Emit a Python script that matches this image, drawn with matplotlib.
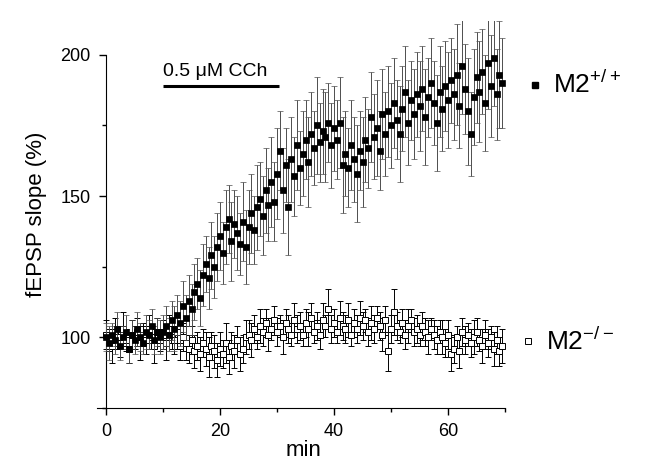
# -*- coding: utf-8 -*-
"""fEPSP slope during 0.5 uM CCh, M2+/+ vs M2-/- slices."""

import matplotlib
matplotlib.use('Agg')
import matplotlib.pyplot as plt
import numpy as np
from matplotlib.ticker import MultipleLocator

plt.rcParams['font.family'] = ['Liberation Sans', 'DejaVu Sans']
plt.rcParams['mathtext.default'] = 'regular'

# sampling every 30 s
minutes = np.arange(0, 70, 0.5)

wt_mean = [100, 98, 101, 99, 103, 97, 100, 102, 96, 101,
           99, 103, 100, 98, 102, 101, 104, 99, 102, 100,
           102, 104, 101, 106, 103, 108, 105, 111, 107, 113,
           110, 116, 119, 114, 122, 126, 121, 129, 125, 132,
           136, 130, 139, 142, 134, 140, 137, 133, 141, 132,
           139, 144, 138, 146, 149, 143, 152, 147, 155, 148,
           158, 166, 152, 161, 146, 163, 157, 168, 160, 165,
           170, 162, 172, 167, 175, 169, 173, 171, 176, 168,
           174, 170, 176, 161, 165, 160, 168, 163, 158, 166,
           162, 170, 167, 178, 171, 174, 166, 179, 172, 180,
           175, 183, 177, 172, 181, 187, 176, 184, 179, 186,
           182, 188, 178, 185, 190, 183, 176, 187, 181, 189,
           184, 191, 186, 193, 182, 196, 188, 180, 172, 185,
           192, 187, 194, 183, 197, 189, 199, 186, 193, 190]
wt_err = [5, 6, 4, 5, 6, 5, 4, 6, 5, 5,
          5, 6, 5, 4, 6, 5, 6, 5, 5, 6,
          6, 7, 6, 7, 8, 7, 8, 9, 8, 9,
          9, 10, 9, 10, 11, 10, 11, 12, 11, 12,
          12, 11, 13, 12, 14, 12, 13, 11, 14, 13,
          13, 14, 12, 15, 13, 14, 15, 13, 16, 14,
          16, 14, 15, 13, 17, 15, 14, 16, 13, 15,
          14, 16, 15, 13, 17, 14, 15, 16, 14, 15,
          15, 14, 16, 17, 15, 14, 16, 15, 17, 14,
          16, 15, 14, 16, 15, 17, 14, 16, 15, 16,
          15, 16, 14, 17, 15, 16, 15, 14, 16, 15,
          16, 15, 17, 14, 16, 15, 17, 16, 15, 16,
          17, 15, 16, 18, 15, 17, 16, 19, 15, 17,
          16, 18, 15, 17, 16, 18, 17, 16, 19, 16]

ko_mean = [101, 99, 97, 102, 100, 98, 103, 99, 96, 101,
           100, 102, 98, 101, 99, 103, 100, 97, 102, 99,
           101, 98, 103, 100, 99, 102, 97, 100, 98, 96,
           99, 95, 97, 94, 98, 96, 93, 97, 95, 92,
           96, 94, 98, 93, 97, 95, 99, 94, 96, 100,
           101, 99, 103, 100, 104, 102, 105, 101, 103, 106,
           102, 104, 100, 105, 103, 101, 106, 103, 104, 101,
           105, 103, 107, 102, 104, 101, 106, 104, 110, 103,
           105, 102, 107, 104, 103, 106, 101, 105, 103, 107,
           104, 106, 102, 105, 103, 107, 104, 101, 106, 95,
           103, 109, 104, 102, 105, 101, 104, 106, 102, 103,
           101, 104, 102, 100, 103, 101, 99, 102, 100, 98,
           101, 94, 96, 100, 95, 102, 99, 101, 98, 100,
           102, 99, 97, 101, 98, 100, 96, 99, 95, 97]
ko_err = [5, 4, 6, 5, 4, 5, 6, 4, 5, 5,
          4, 5, 6, 4, 5, 5, 4, 6, 5, 4,
          5, 6, 5, 4, 5, 6, 5, 5, 6, 5,
          5, 6, 5, 6, 5, 6, 7, 5, 6, 6,
          6, 5, 7, 6, 5, 6, 5, 6, 5, 6,
          5, 6, 5, 4, 6, 5, 5, 6, 4, 5,
          5, 4, 6, 5, 5, 4, 6, 5, 5, 4,
          5, 6, 5, 4, 5, 5, 6, 4, 7, 5,
          5, 4, 6, 5, 5, 6, 4, 5, 5, 6,
          5, 4, 5, 6, 5, 4, 5, 6, 5, 7,
          5, 8, 5, 4, 5, 5, 6, 4, 5, 5,
          4, 5, 5, 6, 4, 5, 5, 4, 6, 5,
          5, 6, 5, 4, 6, 5, 5, 4, 5, 6,
          5, 4, 6, 5, 5, 4, 6, 5, 5, 6]

drug_label = '0.5 \u03bcM CCh'
drug_on, drug_off = 10, 30.3

fig = plt.figure(figsize=(6.49, 4.66), dpi=100)
ax = fig.add_axes([0.1493, 0.1245, 0.787 - 0.1493, 0.955 - 0.1245])

ax.errorbar(minutes, ko_mean, yerr=ko_err, fmt='s', ms=3.8, mfc='white', mec='black',
            mew=0.7, ecolor='black', elinewidth=0.7, capsize=2, capthick=0.7, zorder=2)
ax.errorbar(minutes, wt_mean, yerr=wt_err, fmt='s', ms=4, mfc='black', mec='black',
            mew=0.5, ecolor='0.3', elinewidth=0.7, capsize=2, capthick=0.7, zorder=3)

# drug application bar
ax.plot([drug_on, drug_off], [189, 189], color='black', lw=2.2, solid_capstyle='butt')
ax.text(drug_on, 191, drug_label, fontsize=14, ha='left', va='bottom')

# labels on the right
ax.plot([75.3], [189.4], 's', ms=4, color='black', clip_on=False)
ax.text(78.4, 189.4, r'M2$^{+/+}$', fontsize=19, va='center', ha='left')
ax.plot([74.0], [98.6], 's', ms=4.2, mfc='white', mec='black', mew=0.7, clip_on=False)
ax.text(77.2, 98.6, r'M2$^{-/-}$', fontsize=19, va='center', ha='left')

ax.set_xlim(-1.6, 71)
ax.set_ylim(75, 212)
for side in ['top', 'right']:
    ax.spines[side].set_visible(False)
ax.spines['left'].set_position(('data', 0))
ax.spines['left'].set_bounds(75, 200)
ax.spines['bottom'].set_bounds(-1.6, 70)

ax.xaxis.set_minor_locator(MultipleLocator(10))
ax.set_xticks([0, 20, 40, 60])
ax.set_yticks([100, 150, 200])
ax.yaxis.set_minor_locator(MultipleLocator(25))
ax.tick_params(axis='both', which='major', labelsize=13, length=5, width=1)
ax.tick_params(axis='both', which='minor', length=3, width=1)
ax.tick_params(axis='y', which='major', pad=6)
ax.tick_params(axis='x', which='major', pad=6)

ax.set_xlabel('min', fontsize=16, labelpad=0)
ax.set_ylabel('fEPSP slope (%)', fontsize=16, labelpad=10)

plt.savefig('out.png', dpi=100)
